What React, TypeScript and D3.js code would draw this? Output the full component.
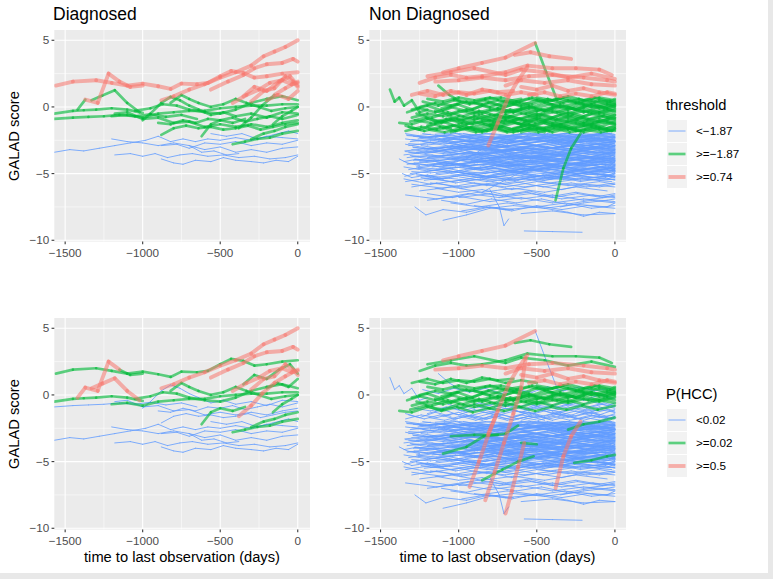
import { scaleLinear } from "d3";

// axis breaks shared by every panel
const yTicks = [5, 0, -5, -10];
const yMinor = [2.5, -2.5, -7.5];
const xTicks = [-1500, -1000, -500, 0];
const xMinor = [-1250, -750, -250];

const thresholdLabels = ["<\u22121.87", ">=\u22121.87", ">=0.74"];
const hccLabels = ["<0.02", ">=0.02", ">=0.5"];

// diagnosed patients: flat [day, score, day, score, ...]
const dxLines: number[][] = [
  [-1560, 1.6, -1450, 1.9, -1300, 2.0, -1200, 1.8, -1100, 1.6, -1000, 1.75, -900, 1.55, -820, 1.35, -750, 1.75, -650, 1.7, -580, 1.8, -500, 2.3, -430, 2.7, -350, 2.55, -280, 2.2, -200, 2.3, -100, 2.5, 0, 2.6],
  [-880, 0.5, -800, 0.8, -700, 1.3, -600, 1.7, -500, 2.2, -400, 2.6, -300, 3.1, -220, 3.8, -150, 4.15, -80, 4.5, 0, 5.0],
  [-560, 1.3, -450, 1.9, -350, 2.4, -280, 2.9, -200, 3.2, -100, 3.3, -30, 3.6, 0, 3.4],
  [-1420, -0.2, -1370, 0.55, -1290, 0.3, -1220, 2.5, -1150, 1.9, -1080, 1.5, -1000, 1.6],
  [-1330, 0.5, -1260, 0.85, -1180, 1.25, -1100, 0.3, -1020, -0.4],
  [-420, 0.3, -330, 0.9, -250, 1.3, -180, 1.8, -100, 2.0, -40, 1.7, 0, 1.8],
  [-300, 0.4, -220, 1.2, -150, 1.4, -80, 2.3, -30, 1.9, 0, 1.5],
  [-380, -1.6, -300, -0.8, -230, 0.1, -150, 0.9, -80, 1.4, 0, 1.9],
  [-350, 0.8, -280, 1.5, -200, 1.2, -120, 1.9, -50, 2.3, 0, 1.6],
  [-200, 0.5, -130, 0.9, -60, 0.6, 0, 1.2],
  [-1570, -0.5, -1450, -0.3, -1380, -0.25, -1300, -0.2, -1200, -0.1, -1100, -0.2, -1000, -0.45],
  [-1570, -0.9, -1450, -0.8, -1350, -0.75, -1250, -0.7, -1150, -0.6, -1050, -0.7, -950, -0.55, -850, -0.75, -750, -0.6, -650, -0.9],
  [-1180, -0.5, -1100, -0.4, -1000, -0.9, -900, -0.8, -800, -1.2, -700, -1.1, -600, -1.5, -500, -1.3, -400, -1.5, -300, -1.3, -200, -1.5, -100, -1.2, 0, -1.0],
  [-1200, -0.7, -1100, -0.6, -1000, -0.8, -900, -0.5, -800, -0.4, -700, -0.3, -600, -0.3, -500, -0.1, -400, 0.0, -300, 0.1, -200, 0.1, -100, 0.2, 0, 0.2],
  [-1000, -1.0, -950, -0.5, -880, 0.3, -820, 0.75, -760, 0.5, -700, 0.1, -640, -0.2, -560, -0.6, -480, -0.4, -400, -0.7, -300, -0.5, -200, -0.8, -100, -0.4, 0, -0.5],
  [-880, -2.1, -800, -1.6, -720, -1.4, -640, -1.6, -560, -1.5, -480, -1.7, -400, -1.6, -320, -1.4, -240, -1.7, -160, -1.5, -80, -1.3, 0, -1.2],
  [-900, -1.2, -820, -1.3, -740, -1.0, -660, -1.2, -580, -0.9, -500, -1.0, -420, -0.8, -340, -1.1, -260, -0.9, -180, -0.7, -100, -0.9, 0, -0.6],
  [-620, -2.2, -560, -1.3, -500, -1.0, -420, -1.2, -340, -0.9],
  [-420, -2.8, -340, -2.6, -260, -2.4, -180, -2.3, -100, -2.0, 0, -1.8],
  [-300, -2.4, -220, -2.0, -150, -1.8, -80, -1.5, 0, -1.3],
  [-820, 0.3, -750, 0.9, -700, 0.6, -640, 0.3, -560, 0.0, -480, 0.2, -400, 0.6, -330, 0.3, -250, 0.0, -170, -0.3, -80, -0.1, 0, 0.0],
  [-1050, -0.3, -950, -0.1, -870, 0.2, -780, 0.1, -700, -0.2, -600, -0.4, -500, -0.5, -400, -0.2, -300, 0.3, -200, 0.6, -100, 0.8, 0, 0.5],
  [-160, -1.3, -100, -0.7, -40, -0.3, 0, 0.0],
  [-1570, -3.4, -1470, -3.2, -1380, -3.3, -1280, -3.1, -1180, -2.9, -1080, -2.7, -980, -2.5, -900, -2.2, -820, -2.6, -740, -2.4, -660, -2.6, -580, -2.4, -500, -2.5, -400, -2.3, -300, -2.5, -200, -2.2, -100, -2.3, 0, -2.4],
  [-1180, -3.6, -1080, -3.5, -1000, -3.7, -920, -3.5, -840, -3.8, -760, -3.6, -680, -3.5, -580, -3.7, -480, -3.6, -380, -3.8, -280, -3.7, -180, -3.9, -80, -3.8, 0, -3.6],
  [-880, -3.9, -800, -4.2, -740, -4.3, -660, -4.0, -560, -4.1, -480, -3.8, -400, -4.0, -300, -4.1, -220, -4.2, -140, -4.0, -60, -4.1, 0, -3.7],
  [-1200, -2.4, -1100, -2.6, -1000, -2.7, -900, -2.9, -800, -2.7, -700, -2.9, -600, -3.2, -500, -3.0, -400, -3.4, -300, -3.2, -200, -3.4, -100, -3.1, 0, -3.0],
  [-880, -2.9, -780, -2.8, -700, -3.1, -600, -2.7, -500, -2.8, -400, -2.6, -300, -2.9, -200, -2.7, -100, -2.8, 0, -2.5],
  [-560, -2.0, -460, -2.2, -360, -2.0, -260, -2.4, -160, -2.1, -60, -1.8, 0, -2.0],
  [-700, -2.9, -620, -3.4, -540, -3.3, -460, -3.6, -380, -3.5],
];
// colour class of each segment (one letter = whole line): b / g / r
const dxThreshold = [
  "r", "r", "r", "grrrrr", "g", "r", "r", "gggrr", "r", "r",
  "g", "g", "g", "g", "g", "g", "g", "g", "g", "g",
  "g", "g", "g",
  "b", "b", "b", "b", "b", "b", "b",
];
const dxHcc = [
  "g", "r", "r", "rrrrgg", "r", "r", "r", "r", "g", "g",
  "g", "b", "b", "g", "b", "b", "b", "g", "g", "g",
  "g", "g", "g",
  "b", "b", "b", "b", "b", "b", "b",
];

// patients without diagnosis, high scorers
const ndUpper: number[][] = [
  [-1100, 2.6, -1000, 2.9, -850, 3.3, -700, 3.7, -510, 4.8],
  [-640, 3.9, -540, 4.1, -420, 3.8, -280, 3.6],
  [-1250, 1.8, -1150, 2.2, -1050, 2.4, -950, 2.2, -850, 2.3, -700, 2.6, -560, 3.1, -400, 2.9, -250, 2.9, -100, 2.8, -20, 2.4],
  [-1200, 2.3, -1050, 2.6, -900, 2.9, -700, 2.4, -600, 2.8, -450, 2.6, -300, 2.2, -150, 2.5, 0, 2.1],
  [-1150, 1.9, -1000, 2.0, -850, 2.2, -700, 2.0, -550, 2.3, -400, 2.4, -200, 2.2, -50, 2.0, 0, 1.9],
  [-1300, 0.9, -1200, 1.2, -1100, 0.9, -1000, 1.1, -900, 1.0, -800, 1.2, -700, 0.9, -600, 1.1, -500, 0.9],
  [-1250, 1.0, -1150, 0.8, -1050, 1.2, -950, 0.9, -850, 1.3, -750, 1.1, -650, 1.2],
  [-600, 1.5, -500, 1.3, -400, 1.6, -300, 1.2, -200, 1.4, -100, 1.1, 0, 0.9],
  [-550, 0.9, -450, 1.1, -350, 0.8, -250, 1.0, -150, 0.8, -50, 1.1, 0, 1.0],
  [-700, 1.6, -600, 2.0, -450, 1.8, -300, 2.0, -150, 1.7, 0, 1.6],
  [-810, -2.9, -750, -1.2, -680, 0.8, -620, 2.0, -560, 3.0],
];
const ndUpperThreshold = ["r", "r", "r", "r", "r", "r", "r", "r", "r", "r", "r"];
const ndUpperHcc = ["r", "g", "g", "g", "r", "g", "g", "r", "r", "r", "r"];

// middle band
const ndMiddle: number[][] = [
  [-1380, -1.2, -1300, -1.3, -1200, -0.9, -1100, -1.1, -1000, -0.7, -900, -0.9, -800, -0.6, -700, -0.8, -600, -0.5, -500, -0.7, -400, -0.4, -300, -0.6, -200, -0.3, -100, -0.5, 0, -0.2],
  [-1340, -1.8, -1240, -1.5, -1140, -1.7, -1040, -1.4, -940, -1.6, -840, -1.3, -740, -1.5, -640, -1.2, -540, -1.4, -440, -1.1, -340, -1.3, -240, -1.0, -140, -1.2, -40, -0.9, 0, -1.0],
  [-1300, -0.8, -1200, -0.5, -1100, -0.7, -1000, -0.3, -900, -0.5, -800, -0.2, -700, -0.4, -600, -0.1, -500, -0.3, -400, 0.0, -300, -0.2, -200, 0.1, -100, -0.1, 0, 0.2],
  [-1250, 0.0, -1150, 0.3, -1050, 0.1, -950, 0.4, -850, 0.2, -750, 0.5, -650, 0.3, -550, 0.6, -450, 0.4, -350, 0.6, -250, 0.3, -150, 0.5, -50, 0.2, 0, 0.4],
  [-1200, 0.6, -1100, 0.4, -1000, 0.7, -900, 0.5, -800, 0.7, -700, 0.4, -600, 0.6],
  [-1320, -1.5, -1220, -1.8, -1120, -1.5, -1020, -1.8, -920, -1.5, -820, -1.8, -720, -1.5, -620, -1.8, -520, -1.5, -420, -1.8, -320, -1.5, -220, -1.8, -120, -1.5, -20, -1.8, 0, -1.6],
  [-1280, -1.0, -1180, -1.2, -1080, -0.9, -980, -1.2, -880, -0.9, -780, -1.1, -680, -0.8, -580, -1.1, -480, -0.8, -380, -1.0, -280, -0.7, -180, -1.0, -80, -0.7, 0, -0.9],
  [-1150, -0.3, -1050, -0.6, -950, -0.2, -850, -0.5, -750, -0.1, -650, -0.4, -550, 0.0, -450, -0.3, -350, 0.1, -250, -0.2, -150, 0.2, -50, -0.1, 0, 0.1],
  [-1100, -1.6, -1000, -1.3, -900, -1.7, -800, -1.4, -700, -1.8, -600, -1.5, -500, -1.7, -400, -1.4, -300, -1.7, -200, -1.4, -100, -1.7, 0, -1.5],
  [-1000, -1.0, -900, -0.7, -800, -1.0, -700, -0.6, -600, -0.9, -500, -0.5, -400, -0.8, -300, -0.4, -200, -0.7, -100, -0.4, 0, -0.6],
  [-900, 0.3, -800, 0.0, -700, 0.4, -600, 0.1, -500, 0.5, -400, 0.2, -300, 0.5, -200, 0.2, -100, 0.5, 0, 0.3],
  [-800, -1.3, -700, -1.0, -600, -1.3, -500, -0.9, -400, -1.2, -300, -0.9, -200, -1.2, -100, -0.9, 0, -1.2],
  [-700, -0.5, -600, -0.2, -500, -0.6, -400, -0.2, -300, -0.5, -200, -0.1, -100, -0.4, 0, -0.1],
  [-600, -1.9, -500, -1.6, -400, -1.9, -300, -1.6, -200, -1.9, -100, -1.6, 0, -1.8],
  [-1330, -0.4, -1250, -0.1, -1150, -0.4, -1050, 0.0, -950, -0.3, -850, 0.1, -750, -0.2, -650, 0.2, -550, -0.1, -450, 0.3, -350, 0.0, -250, 0.3, -150, 0.0, -50, 0.3, 0, 0.0],
  [-1200, -1.4, -1100, -1.1, -1000, -1.5, -900, -1.1, -800, -1.4, -700, -1.0, -600, -1.3, -500, -1.0, -400, -1.4, -300, -1.1, -200, -1.4, -100, -1.1, 0, -1.3],
  [-1440, 1.3, -1410, 0.4, -1380, 0.7, -1350, 0.1, -1300, 0.5, -1250, -0.4, -1200, -0.2],
  [-1130, 1.6, -1060, 0.9, -990, 0.4],
  [-510, 4.8, -440, 2.6, -370, 0.5],
  [-380, -7.0, -330, -4.6, -280, -3.1, -220, -2.0],
  [-500, 0.7, -400, 0.5, -300, 0.8, -200, 0.5, -100, 0.7, 0, 0.5],
  [-1050, -1.9, -950, -1.6, -850, -1.9, -750, -1.6, -650, -1.9, -550, -1.6, -450, -1.9],
  [-400, -1.3, -300, -1.6, -200, -1.2, -100, -1.5, 0, -1.1],
  [-300, 0.0, -200, -0.4, -100, 0.0, 0, -0.3],
  [-1310, -1.1, -1210, -0.8, -1110, -1.2, -1010, -0.9, -910, -1.3, -810, -1.0, -710, -1.2, -610, -0.9, -510, -1.2, -410, -0.9, -310, -1.1, -210, -0.8, -110, -1.1, 0, -0.8],
  [-1270, -0.5, -1170, -0.8, -1070, -0.4, -970, -0.7, -870, -0.3, -770, -0.6, -670, -0.2, -570, -0.5, -470, -0.2, -370, -0.4, -270, -0.1, -170, -0.4, -70, -0.2, 0, -0.4],
  [-1230, 0.4, -1130, 0.1, -1030, 0.5, -930, 0.2, -830, 0.5, -730, 0.1, -630, 0.4, -530, 0.2, -430, 0.6, -330, 0.3, -230, 0.6, -130, 0.3, -30, 0.5],
  [-1190, -1.7, -1090, -1.9, -990, -1.6, -890, -1.9, -790, -1.6, -690, -1.9, -590, -1.7, -490, -1.9, -390, -1.6, -290, -1.9, -190, -1.7, -90, -1.9, 0, -1.7],
  [-1150, -1.2, -1050, -0.9, -950, -1.3, -850, -1.1, -750, -1.4, -650, -1.1, -550, -1.5, -450, -1.2, -350, -1.5, -250, -1.2, -150, -1.4, -50, -1.1, 0, -1.3],
  [-1110, -0.1, -1010, 0.2, -910, -0.2, -810, 0.3, -710, 0.0, -610, 0.3, -510, -0.1, -410, 0.2, -310, -0.1, -210, 0.3, -110, 0.0, 0, 0.2],
  [-1070, -0.7, -970, -1.0, -870, -0.6, -770, -0.9, -670, -0.7, -570, -1.0, -470, -0.6, -370, -0.9, -270, -0.6, -170, -0.9, -70, -0.6, 0, -0.8],
  [-1030, 0.6, -930, 0.3, -830, 0.6, -730, 0.7, -630, 0.4, -530, 0.7, -430, 0.4, -330, 0.7, -230, 0.4, -130, 0.7, -30, 0.4, 0, 0.6],
  [-950, -1.5, -850, -1.8, -750, -1.4, -650, -1.7, -550, -1.3, -450, -1.6, -350, -1.3, -250, -1.6, -150, -1.3, -50, -1.6, 0, -1.4],
  [-850, -0.9, -750, -0.6, -650, -1.0, -550, -0.7, -450, -1.0, -350, -0.6, -250, -0.9, -150, -0.5, -50, -0.8, 0, -0.6],
  [-750, -0.1, -650, -0.4, -550, 0.1, -450, -0.3, -350, 0.2, -250, -0.2, -150, 0.2, -50, -0.1, 0, 0.1],
  [-650, -1.6, -550, -1.3, -450, -1.7, -350, -1.4, -250, -1.8, -150, -1.5, -50, -1.8, 0, -1.6],
  [-1340, -1.4, -1250, -1.7, -1150, -1.3, -1050, -1.6],
  [-1300, -0.2, -1200, 0.1, -1100, -0.3, -1000, 0.2],
];
const ndMiddleThreshold = [
  "g", "g", "g", "g", "g", "g", "g", "g", "g", "g",
  "g", "g", "g", "g", "g", "g", "g", "g", "g", "g",
  "g", "g", "g", "g", "g", "g", "g", "g", "g", "g",
  "g", "g", "g", "g", "g", "g", "g", "g",
];
const ndMiddleHcc = [
  "g", "b", "g", "g", "g", "b", "b", "g", "b", "g",
  "g", "b", "g", "b", "g", "b", "b", "b", "b", "r",
  "g", "b", "b", "b", "g", "g", "b", "b", "b", "g",
  "b", "g", "b", "b", "g", "b", "b", "g",
];

// low scorers
const ndLower: number[][] = [
  [-1340, -2.4, -1160, -2.7, -960, -2.3, -760, -2.6, -560, -2.2, -360, -2.5, -160, -2.1, 0, -2.3],
  [-1320, -2.9, -1130, -2.6, -930, -3.0, -720, -2.7, -520, -2.9, -330, -2.5, -130, -2.8, 0, -2.6],
  [-1300, -3.2, -1100, -3.5, -900, -3.1, -700, -3.4, -500, -3.0, -300, -3.3, -100, -2.9, 0, -3.1],
  [-1350, -3.6, -1150, -3.3, -950, -3.7, -750, -3.4, -550, -3.8, -350, -3.5, -150, -3.7, 0, -3.4],
  [-1280, -3.9, -1080, -4.2, -880, -3.8, -680, -4.1, -480, -3.7, -280, -4.0, -80, -3.8, 0, -3.9],
  [-1330, -4.3, -1130, -4.0, -930, -4.4, -730, -4.1, -530, -4.5, -330, -4.2, -130, -4.4, 0, -4.1],
  [-1260, -4.6, -1060, -4.9, -860, -4.5, -660, -4.8, -460, -4.4, -260, -4.7, -60, -4.5, 0, -4.6],
  [-1310, -5.0, -1110, -4.7, -910, -5.1, -710, -4.8, -510, -5.2, -310, -4.9, -110, -5.1, 0, -4.8],
  [-1240, -5.3, -1040, -5.6, -840, -5.2, -640, -5.5, -440, -5.1, -240, -5.4, -40, -5.2, 0, -5.3],
  [-1290, -2.2, -1090, -2.5, -890, -2.1, -690, -2.4, -490, -2.0, -290, -2.3, -90, -2.0, 0, -2.1],
  [-1230, -2.6, -1030, -3.0, -830, -2.6, -630, -3.1, -430, -2.7, -230, -3.0, -30, -2.7],
  [-1270, -3.4, -1070, -3.0, -870, -3.5, -670, -3.2, -470, -3.6, -270, -3.2, -70, -3.5, 0, -3.3],
  [-1200, -3.8, -1000, -3.5, -800, -3.9, -600, -3.6, -400, -4.0, -200, -3.7, 0, -3.9],
  [-1250, -4.1, -1050, -4.4, -850, -4.0, -650, -4.3, -450, -3.9, -250, -4.3, -50, -4.0, 0, -4.2],
  [-1190, -4.8, -990, -4.5, -790, -4.9, -590, -4.6, -390, -5.0, -190, -4.6, 0, -4.8],
  [-1220, -5.5, -1020, -5.2, -820, -5.6, -620, -5.3, -420, -5.7, -220, -5.4, -20, -5.6],
  [-1150, -2.3, -950, -2.8, -750, -2.4, -550, -2.7, -350, -2.3, -150, -2.6, 0, -2.4],
  [-1120, -3.1, -920, -2.8, -720, -3.3, -520, -2.9, -320, -3.2, -120, -2.8, 0, -3.0],
  [-1100, -3.6, -900, -4.0, -700, -3.6, -500, -3.9, -300, -3.5, -100, -3.8, 0, -3.6],
  [-1080, -4.4, -880, -4.1, -680, -4.5, -480, -4.2, -280, -4.6, -80, -4.3, 0, -4.4],
  [-1050, -5.0, -850, -5.3, -650, -4.9, -450, -5.2, -250, -4.8, -50, -5.1, 0, -5.0],
  [-1000, -2.1, -800, -2.4, -600, -2.0, -400, -2.3, -200, -2.0, 0, -2.2],
  [-980, -2.7, -780, -3.1, -580, -2.8, -380, -3.1, -180, -2.7, 0, -2.9],
  [-950, -3.3, -750, -3.7, -550, -3.3, -350, -3.6, -150, -3.2, 0, -3.4],
  [-920, -4.0, -720, -3.7, -520, -4.1, -320, -3.8, -120, -4.2, 0, -3.9],
  [-900, -4.6, -700, -4.9, -500, -4.5, -300, -4.8, -100, -4.5, 0, -4.7],
  [-850, -5.4, -650, -5.1, -450, -5.5, -250, -5.1, -50, -5.4, 0, -5.2],
  [-800, -2.4, -600, -2.2, -400, -2.6, -200, -2.3, 0, -2.5],
  [-760, -3.5, -560, -3.1, -360, -3.4, -160, -3.0, 0, -3.2],
  [-700, -4.2, -500, -3.9, -300, -4.3, -100, -3.9, 0, -4.1],
  [-650, -4.9, -450, -4.6, -250, -5.0, -50, -4.7, 0, -4.8],
  [-600, -2.8, -400, -2.5, -200, -2.9, 0, -2.6],
  [-550, -3.7, -350, -3.4, -150, -3.8, 0, -3.5],
  [-500, -2.2, -300, -2.0, -100, -2.4, 0, -2.1],
  [-1340, -2.8, -1200, -3.1, -1040, -2.9, -860, -3.2, -680, -2.9, -480, -3.2, -280, -2.9, -80, -3.2, 0, -3.0],
  [-1300, -3.7, -1120, -4.0, -940, -3.8, -760, -4.1, -560, -3.8, -360, -4.1, -160, -3.8, 0, -4.0],
  [-1270, -4.5, -1090, -4.2, -900, -4.6, -700, -4.3, -500, -4.7, -300, -4.4, -100, -4.7, 0, -4.5],
  [-1210, -5.2, -1010, -4.9, -810, -5.3, -610, -5.0, -410, -5.4, -210, -5.0, 0, -5.2],
  [-1180, -2.5, -980, -2.2, -780, -2.6, -580, -2.3, -380, -2.7, -180, -2.4, 0, -2.6],
  [-1160, -3.3, -960, -3.0, -760, -3.4, -560, -3.1, -360, -3.5, -160, -3.2, 0, -3.3],
  [-1140, -4.2, -940, -3.9, -740, -4.3, -540, -4.0, -340, -4.4, -140, -4.0, 0, -4.3],
  [-1300, -5.8, -1100, -6.1, -900, -5.7, -700, -6.0, -500, -5.6, -300, -5.9, -100, -5.6, 0, -5.8],
  [-1250, -6.3, -1050, -6.0, -850, -6.4, -650, -6.1, -450, -6.4, -250, -6.0, -50, -6.3],
  [-1340, -6.6, -1140, -6.9, -940, -6.5, -740, -6.8, -540, -6.5, -340, -6.9, -140, -6.6, 0, -6.8],
  [-1200, -7.0, -1000, -6.7, -800, -7.1, -600, -6.8, -400, -7.2, -200, -6.9, 0, -7.1],
  [-1280, -7.5, -1210, -8.1, -1100, -7.7, -950, -7.9, -800, -7.5, -650, -7.7],
  [-1100, -8.5, -950, -8.1, -800, -7.6, -650, -7.4, -450, -7.6, -250, -7.3, -50, -7.5, 0, -7.2],
  [-1150, -6.1, -1000, -6.4, -850, -6.2, -700, -6.6, -550, -6.3, -400, -6.7, -250, -6.4, -100, -6.7, 0, -6.5],
  [-900, -7.4, -700, -7.7, -500, -7.5, -300, -7.9, -200, -8.2, -100, -7.9, 0, -8.0],
  [-800, -6.2, -740, -7.5, -710, -8.9, -680, -8.4],
  [-580, -9.3, -400, -9.35, -210, -9.4],
  [-1350, -5.4, -1180, -5.8, -1000, -5.5, -820, -5.9, -640, -5.6, -460, -6.0, -280, -5.7, -100, -6.0, 0, -5.8],
  [-1050, -7.2, -870, -7.5, -690, -7.2, -500, -7.5, -320, -7.2, -150, -7.6, 0, -7.4],
  [-600, -8.0, -400, -7.8, -200, -8.1, 0, -8.0],
  [-1380, -3.9, -1330, -4.2, -1250, -4.4],
  [-1360, -5.0, -1300, -5.3, -1200, -5.1, -1100, -5.4],
  [-350, -7.5, -200, -7.2, -50, -7.0, 0, -6.9],
  [-1000, -6.8, -800, -6.5, -600, -6.9, -400, -6.6, -200, -7.0, 0, -6.7],
  [-1230, -2.0, -1030, -2.3, -830, -2.0, -630, -2.3, -430, -2.0, -230, -2.3, -30, -1.95],
  [-1050, -2.9, -850, -3.3, -650, -2.9, -450, -3.2, -250, -2.8, -50, -3.1, 0, -2.9],
  [-1320, -3.4, -1120, -3.7, -920, -3.4, -720, -3.8, -520, -3.4, -320, -3.7, -120, -3.3, 0, -3.5],
  [-960, -4.8, -760, -4.4, -560, -4.8, -360, -4.4, -160, -4.9, 0, -4.6],
  [-1180, -5.7, -980, -6.0, -780, -5.7, -580, -6.0, -380, -5.7, -180, -6.0, 0, -5.7],
  [-1290, -4.0, -1100, -3.8, -900, -4.2, -700, -3.9, -500, -4.3, -300, -3.9, -100, -4.2, 0, -4.0],
  [-1250, -2.3, -1050, -2.1, -850, -2.5, -650, -2.2, -450, -2.6, -250, -2.2, -50, -2.5, 0, -2.3],
  [-1335, -2.1, -1190, -2.3, -1020, -2.0, -870, -2.4, -700, -2.2, -540, -2.0, -380, -2.3, -210, -2.1, -60, -2.4, 0, -2.2],
  [-1310, -2.6, -1150, -2.4, -1000, -2.8, -840, -2.5, -690, -2.7, -520, -2.4, -360, -2.8, -190, -2.6, -40, -2.9, 0, -2.7],
  [-1295, -3.0, -1140, -3.3, -980, -3.1, -820, -2.8, -660, -3.2, -500, -3.3, -340, -2.9, -180, -3.1, -30, -2.8, 0, -3.0],
  [-1345, -3.3, -1180, -3.1, -1010, -3.5, -850, -3.6, -690, -3.2, -530, -3.4, -370, -3.7, -200, -3.3, -50, -3.5, 0, -3.2],
  [-1330, -3.8, -1170, -3.6, -1000, -3.9, -830, -4.1, -670, -3.7, -510, -3.9, -350, -4.1, -190, -3.8, -40, -4.0, 0, -3.7],
  [-1285, -4.2, -1120, -4.5, -960, -4.3, -800, -4.0, -640, -4.4, -480, -4.6, -320, -4.2, -160, -4.4, -20, -4.1],
  [-1320, -4.7, -1160, -4.4, -990, -4.8, -830, -5.0, -670, -4.6, -510, -4.8, -350, -5.1, -190, -4.7, -40, -4.9, 0, -4.6],
  [-1270, -5.1, -1100, -5.4, -940, -5.0, -780, -5.3, -620, -5.5, -460, -5.1, -300, -5.3, -140, -5.0, 0, -5.2],
  [-1260, -2.4, -1100, -2.2, -930, -2.6, -770, -2.3, -610, -2.5, -450, -2.2, -290, -2.6, -130, -2.3, 0, -2.5],
  [-1240, -2.9, -1080, -3.2, -910, -2.9, -750, -3.3, -590, -3.0, -430, -2.8, -270, -3.2, -110, -3.0, 0, -3.3],
  [-1215, -3.5, -1050, -3.2, -890, -3.6, -730, -3.3, -570, -3.5, -410, -3.8, -250, -3.4, -90, -3.6, 0, -3.4],
  [-1195, -4.0, -1030, -4.3, -870, -4.1, -710, -3.8, -550, -4.2, -390, -4.0, -230, -4.4, -70, -4.1, 0, -4.3],
  [-1170, -4.5, -1010, -4.3, -850, -4.7, -690, -4.4, -530, -4.7, -370, -4.5, -210, -4.2, -50, -4.6, 0, -4.4],
  [-1145, -5.0, -980, -4.8, -820, -5.2, -660, -4.9, -500, -4.7, -340, -5.1, -180, -4.9, -30, -5.2, 0, -5.0],
  [-1120, -2.2, -960, -2.5, -800, -2.2, -640, -2.6, -480, -2.3, -320, -2.1, -160, -2.5, 0, -2.2],
  [-1095, -2.8, -930, -2.5, -770, -2.9, -610, -2.6, -450, -3.0, -290, -2.7, -130, -2.5, 0, -2.8],
  [-1070, -3.2, -910, -3.5, -750, -3.2, -590, -3.6, -430, -3.3, -270, -3.1, -110, -3.4, 0, -3.2],
  [-1045, -3.9, -880, -3.6, -720, -4.0, -560, -3.7, -400, -3.9, -240, -4.2, -80, -3.8, 0, -4.0],
  [-1020, -4.3, -860, -4.6, -700, -4.2, -540, -4.5, -380, -4.3, -220, -4.7, -60, -4.4, 0, -4.6],
  [-995, -4.9, -830, -5.2, -670, -4.8, -510, -5.1, -350, -5.3, -190, -4.9, -30, -5.1, 0, -4.9],
  [-970, -2.0, -810, -2.3, -650, -2.1, -490, -2.4, -330, -2.0, -170, -2.2, -20, -2.0],
  [-940, -2.6, -780, -2.9, -620, -2.6, -460, -2.4, -300, -2.8, -140, -2.5, 0, -2.7],
  [-910, -3.1, -750, -2.9, -590, -3.3, -430, -3.0, -270, -3.4, -110, -3.1, 0, -2.9],
  [-880, -3.7, -720, -3.4, -560, -3.8, -400, -3.5, -240, -3.7, -80, -3.4, 0, -3.6],
  [-850, -4.1, -690, -4.4, -530, -4.1, -370, -4.5, -210, -4.2, -50, -4.0, 0, -4.2],
  [-820, -4.7, -660, -4.5, -500, -4.8, -340, -4.6, -180, -4.9, -30, -4.6, 0, -4.8],
  [-780, -2.3, -620, -2.6, -460, -2.3, -300, -2.7, -140, -2.4, 0, -2.6],
  [-740, -3.0, -580, -2.7, -420, -3.1, -260, -2.8, -100, -3.0, 0, -2.7],
  [-700, -3.6, -540, -3.9, -380, -3.6, -220, -3.9, -60, -3.5, 0, -3.7],
  [-660, -4.4, -500, -4.1, -340, -4.5, -180, -4.2, -30, -4.4, 0, -4.1],
  [-620, -5.1, -460, -5.4, -300, -5.0, -140, -5.3, 0, -5.1],
  [-580, -2.5, -420, -2.3, -260, -2.6, -100, -2.3, 0, -2.5],
  [-540, -3.3, -380, -3.6, -220, -3.3, -60, -3.6, 0, -3.4],
  [-500, -4.0, -340, -3.7, -180, -4.1, -30, -3.8, 0, -4.0],
  [-460, -4.6, -300, -4.9, -140, -4.6, 0, -4.8],
  [-420, -2.1, -260, -2.4, -100, -2.1, 0, -2.3],
  [-380, -3.0, -220, -2.8, -60, -3.1, 0, -2.9],
  [-340, -3.8, -180, -4.0, -30, -3.7, 0, -3.9],
  [-300, -2.6, -150, -2.3, 0, -2.6],
  [-1350, -4.5, -1200, -4.8, -1040, -4.6, -880, -4.3, -720, -4.7, -560, -4.9, -400, -4.5, -240, -4.8, -80, -4.5, 0, -4.7],
  [-1340, -5.6, -1180, -5.3, -1020, -5.7, -860, -5.4, -700, -5.8, -540, -5.5, -380, -5.2, -220, -5.6, -60, -5.3, 0, -5.5],
  [-1300, -6.0, -1140, -5.7, -980, -6.1, -820, -5.8, -660, -6.2, -500, -5.9, -340, -6.2, -180, -5.8, 0, -6.0],
  [-1200, -6.5, -1040, -6.8, -880, -6.4, -720, -6.7, -560, -6.4, -400, -6.8, -240, -6.5, -80, -6.8, 0, -6.6],
  [-1110, -7.0, -950, -7.3, -790, -6.9, -630, -7.2, -470, -6.9, -310, -7.3, -150, -7.0, 0, -7.2],
  [-980, -7.8, -820, -7.5, -660, -7.8, -500, -7.4, -340, -7.7, -180, -7.4, 0, -7.6],
  [-1330, -2.15, -1210, -2.25, -1090, -2.1, -970, -2.3, -850, -2.2, -730, -2.35, -610, -2.2, -490, -2.3, -370, -2.15, -250, -2.3, -130, -2.2, 0, -2.3],
  [-1300, -2.45, -1180, -2.55, -1060, -2.4, -940, -2.6, -820, -2.5, -700, -2.65, -580, -2.5, -460, -2.6, -340, -2.45, -220, -2.6, -100, -2.5, 0, -2.55],
  [-1320, -2.75, -1200, -2.85, -1080, -2.7, -960, -2.9, -840, -2.8, -720, -2.95, -600, -2.8, -480, -2.9, -360, -2.75, -240, -2.9, -120, -2.8, 0, -2.85],
  [-1290, -3.05, -1170, -3.15, -1050, -3.0, -930, -3.2, -810, -3.1, -690, -3.25, -570, -3.1, -450, -3.2, -330, -3.05, -210, -3.2, -90, -3.1, 0, -3.15],
  [-1340, -3.35, -1220, -3.45, -1100, -3.3, -980, -3.5, -860, -3.4, -740, -3.55, -620, -3.4, -500, -3.5, -380, -3.35, -260, -3.5, -140, -3.4, 0, -3.45],
  [-1310, -3.65, -1190, -3.75, -1070, -3.6, -950, -3.8, -830, -3.7, -710, -3.85, -590, -3.7, -470, -3.8, -350, -3.65, -230, -3.8, -110, -3.7, 0, -3.75],
  [-1280, -3.95, -1160, -4.05, -1040, -3.9, -920, -4.1, -800, -4.0, -680, -4.15, -560, -4.0, -440, -4.1, -320, -3.95, -200, -4.1, -80, -4.0, 0, -4.05],
  [-1320, -4.25, -1200, -4.35, -1080, -4.2, -960, -4.4, -840, -4.3, -720, -4.45, -600, -4.3, -480, -4.4, -360, -4.25, -240, -4.4, -120, -4.3, 0, -4.35],
  [-1260, -4.55, -1140, -4.65, -1020, -4.5, -900, -4.7, -780, -4.6, -660, -4.75, -540, -4.6, -420, -4.7, -300, -4.55, -180, -4.7, -60, -4.6, 0, -4.65],
  [-1300, -4.85, -1180, -4.95, -1060, -4.8, -940, -5.0, -820, -4.9, -700, -5.05, -580, -4.9, -460, -5.0, -340, -4.85, -220, -5.0, -100, -4.9, 0, -4.95],
  [-1240, -5.15, -1120, -5.25, -1000, -5.1, -880, -5.3, -760, -5.2, -640, -5.35, -520, -5.2, -400, -5.3, -280, -5.15, -160, -5.3, -40, -5.2, 0, -5.25],
  [-1150, -2.05, -1030, -1.95, -910, -2.1, -790, -2.0, -670, -2.15, -550, -1.95, -430, -2.1, -310, -2.0, -190, -2.1, -70, -1.95, 0, -2.05],
  [-1100, -2.35, -980, -2.45, -860, -2.3, -740, -2.5, -620, -2.35, -500, -2.45, -380, -2.3, -260, -2.5, -140, -2.35, 0, -2.4],
  [-1060, -2.65, -940, -2.55, -820, -2.7, -700, -2.6, -580, -2.75, -460, -2.6, -340, -2.7, -220, -2.55, -100, -2.7, 0, -2.6],
  [-1010, -2.95, -890, -3.05, -770, -2.9, -650, -3.1, -530, -2.95, -410, -3.05, -290, -2.9, -170, -3.1, -50, -2.95, 0, -3.0],
  [-960, -3.25, -840, -3.15, -720, -3.3, -600, -3.2, -480, -3.35, -360, -3.2, -240, -3.3, -120, -3.15, 0, -3.25],
  [-910, -3.55, -790, -3.65, -670, -3.5, -550, -3.7, -430, -3.55, -310, -3.65, -190, -3.5, -70, -3.7, 0, -3.6],
  [-860, -3.85, -740, -3.75, -620, -3.9, -500, -3.8, -380, -3.95, -260, -3.8, -140, -3.9, 0, -3.85],
  [-810, -4.15, -690, -4.25, -570, -4.1, -450, -4.3, -330, -4.15, -210, -4.25, -90, -4.1, 0, -4.2],
  [-760, -4.45, -640, -4.35, -520, -4.5, -400, -4.4, -280, -4.55, -160, -4.4, -40, -4.5, 0, -4.45],
  [-710, -4.75, -590, -4.85, -470, -4.7, -350, -4.9, -230, -4.75, -110, -4.85, 0, -4.8],
  [-1180, -5.45, -1060, -5.35, -940, -5.5, -820, -5.4, -700, -5.55, -580, -5.4, -460, -5.5, -340, -5.35, -220, -5.5, -100, -5.4, 0, -5.45],
  [-1220, -3.15, -1100, -3.05, -980, -3.2, -860, -3.1, -740, -3.25, -620, -3.1, -500, -3.2, -380, -3.05, -260, -3.2, -140, -3.1, 0, -3.15],
  [-1190, -3.75, -1070, -3.85, -950, -3.7, -830, -3.9, -710, -3.75, -590, -3.85, -470, -3.7, -350, -3.9, -230, -3.75, -110, -3.85, 0, -3.8],
  [-1160, -4.35, -1040, -4.25, -920, -4.4, -800, -4.3, -680, -4.45, -560, -4.3, -440, -4.4, -320, -4.25, -200, -4.4, -80, -4.3, 0, -4.35],
  [-1130, -2.55, -1010, -2.65, -890, -2.5, -770, -2.7, -650, -2.55, -530, -2.65, -410, -2.5, -290, -2.7, -170, -2.55, -50, -2.65, 0, -2.6],
  [-1340, -2.0, -1260, -2.15, -1180, -2.05],
  [-1350, -4.1, -1280, -3.95, -1200, -4.1],
  [-1345, -5.2, -1270, -5.0, -1190, -5.2],
  [-450, -5.3, -330, -5.45, -210, -5.3, -90, -5.5, 0, -5.4],
];

// low scorers that climb; the last three only carry a P(HCC) class
const ndRising: number[][] = [
  [-1100, -4.4, -950, -3.9, -840, -3.1, -700, -2.9, -620, -2.3],
  [-850, -6.4, -720, -5.6, -620, -5.0, -520, -4.6],
  [-260, -5.1, -150, -4.9, -50, -4.6, 0, -4.5],
  [-600, -3.6, -500, -3.7],
  [-1050, -3.1, -900, -3.0, -750, -3.0],
  [-300, -2.6, -200, -2.2, -100, -2.0, 0, -1.7],
  [-930, -6.9, -870, -5.0, -810, -3.0, -760, -1.5],
  [-830, -7.9, -770, -5.8, -710, -3.6, -650, -1.4, -600, 0.5, -570, 2.8],
  [-700, -8.9, -660, -7.2, -620, -5.4, -580, -3.6],
];
const ndRisingThreshold = ["b", "b", "b", "b", "b", "b", "x", "x", "x"];
const ndRisingHcc = ["g", "g", "g", "g", "g", "g", "r", "r", "r"];

const ndLines = [...ndUpper, ...ndMiddle, ...ndLower, ...ndRising];
const ndThreshold = [...ndUpperThreshold, ...ndMiddleThreshold, ...ndLower.map(() => "b"), ...ndRisingThreshold];
const ndHcc = [...ndUpperHcc, ...ndMiddleHcc, ...ndLower.map(() => "b"), ...ndRisingHcc];

const STYLE: Record<string, { stroke: string; width: number; opacity: number }> = {
  b: { stroke: "#619CFF", width: 0.95, opacity: 0.85 },
  g: { stroke: "#00BA38", width: 2.7, opacity: 0.62 },
  r: { stroke: "#F8766D", width: 3.9, opacity: 0.55 },
};
const ORDER = ["b", "g", "r"];
const FONT = "'Liberation Sans', Arial, sans-serif";
const signed = (v: number) => (v < 0 ? `\u2212${Math.abs(v)}` : `${v}`);

interface PanelProps {
  id: string;
  left: number;
  right: number;
  top: number;
  bottom: number;
  xDomain: [number, number];
  lines: number[][];
  classes: string[];
}

function Panel({ id, left, right, top, bottom, xDomain, lines, classes }: PanelProps) {
  const x = scaleLinear().domain(xDomain).range([left, right]);
  const y = scaleLinear().domain([-10.1, 5.77]).range([bottom, top]);

  const segs: { c: string; x1: number; y1: number; x2: number; y2: number }[] = [];
  lines.forEach((pts, li) => {
    const cls = classes[li] ?? "b";
    for (let i = 0; i + 3 < pts.length; i += 2) {
      const c = cls.length === 1 ? cls : cls[i / 2];
      if (!STYLE[c]) continue;
      segs.push({ c, x1: x(pts[i]), y1: y(pts[i + 1]), x2: x(pts[i + 2]), y2: y(pts[i + 3]) });
    }
  });

  return (
    <g>
      <defs>
        <clipPath id={id}>
          <rect x={left} y={top} width={right - left} height={bottom - top} />
        </clipPath>
      </defs>
      <rect x={left} y={top} width={right - left} height={bottom - top} fill="#EBEBEB" />
      {yMinor.map((v) => (
        <line key={`ym${v}`} x1={left} x2={right} y1={y(v)} y2={y(v)} stroke="#fff" strokeWidth={0.55} />
      ))}
      {xMinor.map((v) => (
        <line key={`xm${v}`} x1={x(v)} x2={x(v)} y1={top} y2={bottom} stroke="#fff" strokeWidth={0.55} />
      ))}
      {yTicks.map((v) => (
        <line key={`yg${v}`} x1={left} x2={right} y1={y(v)} y2={y(v)} stroke="#fff" strokeWidth={1.1} />
      ))}
      {xTicks.map((v) => (
        <line key={`xg${v}`} x1={x(v)} x2={x(v)} y1={top} y2={bottom} stroke="#fff" strokeWidth={1.1} />
      ))}
      <g clipPath={`url(#${id})`}>
        {ORDER.map((c) => (
          <g key={c} stroke={STYLE[c].stroke} strokeWidth={STYLE[c].width} strokeOpacity={STYLE[c].opacity} strokeLinecap="round">
            {segs
              .filter((s) => s.c === c)
              .map((s, i) => (
                <line key={i} x1={s.x1} y1={s.y1} x2={s.x2} y2={s.y2} />
              ))}
          </g>
        ))}
      </g>
      {yTicks.map((v) => (
        <g key={`yt${v}`}>
          <line x1={left - 2.75} x2={left} y1={y(v)} y2={y(v)} stroke="#333" strokeWidth={1.07} />
          <text x={left - 5} y={y(v) + 4} textAnchor="end" fontSize={11.7} fill="#4D4D4D" fontFamily={FONT}>
            {signed(v)}
          </text>
        </g>
      ))}
      {xTicks.map((v) => (
        <g key={`xt${v}`}>
          <line x1={x(v)} x2={x(v)} y1={bottom} y2={bottom + 2.75} stroke="#333" strokeWidth={1.07} />
          <text x={x(v)} y={bottom + 15} textAnchor="middle" fontSize={11.7} fill="#4D4D4D" fontFamily={FONT}>
            {signed(v)}
          </text>
        </g>
      ))}
    </g>
  );
}

function Legend({ top, title, labels }: { top: number; title: string; labels: string[] }) {
  const keyTop = top + 9.5;
  return (
    <g fontFamily={FONT}>
      <text x={666} y={top} fontSize={14.7} fill="#000">
        {title}
      </text>
      {labels.map((lab, i) => {
        const c = ORDER[i];
        const cy = keyTop + i * 23 + 11.5;
        return (
          <g key={lab}>
            <rect x={666.5} y={keyTop + i * 23} width={21} height={23} fill="#F2F2F2" stroke="#fff" strokeWidth={1} />
            <line x1={668.5} x2={685.5} y1={cy} y2={cy} stroke={STYLE[c].stroke} strokeWidth={STYLE[c].width} strokeOpacity={STYLE[c].opacity} />
            <text x={696} y={cy + 4} fontSize={11.7} fill="#000">
              {lab}
            </text>
          </g>
        );
      })}
    </g>
  );
}

export default function App() {
  return (
    <svg width={773} height={579} style={{ position: "absolute", left: 0, top: 0 }} fontFamily={FONT}>
      <rect width={773} height={579} fill="#fff" />
      <text x={53} y={20} fontSize={17.5} fill="#000">Diagnosed</text>
      <text x={369} y={20} fontSize={17.5} fill="#000">Non Diagnosed</text>

      <Panel id="p1" left={54.3} right={310} top={30} bottom={241.6} xDomain={[-1570, 79]} lines={dxLines} classes={dxThreshold} />
      <Panel id="p2" left={369.3} right={626} top={30} bottom={241.6} xDomain={[-1572, 71]} lines={ndLines} classes={ndThreshold} />
      <Panel id="p3" left={54.3} right={310} top={318} bottom={529.6} xDomain={[-1570, 79]} lines={dxLines} classes={dxHcc} />
      <Panel id="p4" left={369.3} right={626} top={318} bottom={529.6} xDomain={[-1572, 71]} lines={ndLines} classes={ndHcc} />

      <text transform="translate(18.5,136) rotate(-90)" textAnchor="middle" fontSize={14.7} fill="#000">GALAD score</text>
      <text transform="translate(18.5,424) rotate(-90)" textAnchor="middle" fontSize={14.7} fill="#000">GALAD score</text>
      <text x={182} y={562} textAnchor="middle" fontSize={14.7} fill="#000">time to last observation (days)</text>
      <text x={497.5} y={562} textAnchor="middle" fontSize={14.7} fill="#000">time to last observation (days)</text>

      <Legend top={110} title="threshold" labels={thresholdLabels} />
      <Legend top={399} title="P(HCC)" labels={hccLabels} />

      <rect x={768} y={0} width={5} height={579} fill="#E8E8E8" />
      <rect x={0} y={573} width={773} height={6} fill="#E8E8E8" />
    </svg>
  );
}
